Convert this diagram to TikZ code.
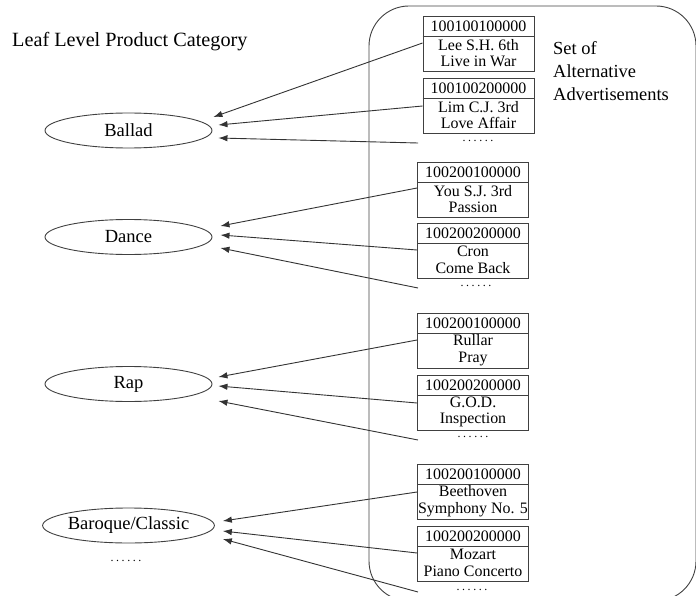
\documentclass[tikz,border=0pt]{standalone}
\usepackage{fontspec}
\setmainfont{Liberation Serif}
\usetikzlibrary{shapes.geometric,arrows.meta,calc}
\newcommand{\advbox}[6]{%
  \node[adbox, anchor=north] (#1) at (#2,#3) {};
  \draw[line] ($(#1.north west)+(0,20.5)$) -- ($(#1.north east)+(0,20.5)$);
  \node[code] (#1c) at ($(#1.north)+(0,10.5)$) {#4};
  \node[title] (#1t) at ($(#1.north)+(0,37)$) {#5\\#6};
}
\newcommand{\sixdots}{.\kern2.6bp.\kern2.6bp.\kern2.6bp.\kern2.6bp.\kern2.6bp.}
\begin{document}
\begin{tikzpicture}[x=1bp,y=-1bp,
  line/.style={draw=black!75, line width=0.9bp},
  cat/.style={ellipse, draw=black!75, line width=0.9bp, minimum width=167bp, minimum height=35bp, inner sep=0pt, font=\fontsize{18.6}{20}\selectfont},
  adbox/.style={draw=black!75, line width=0.9bp, minimum width=111bp, minimum height=55bp, inner sep=0pt},
  code/.style={font=\fontsize{16}{17}\selectfont, inner sep=0pt},
  title/.style={font=\fontsize{16}{16.5}\selectfont, align=center, inner sep=0pt},
  dots/.style={font=\fontsize{12}{12}\selectfont, inner sep=0pt},
  arr/.style={draw=black!80, line width=0.9bp, -{Latex[length=9bp,width=6.5bp]}}
]
\useasboundingbox (0,0) rectangle (696,596);

% container
\node[draw=black!75, line width=0.9bp, rounded corners=40bp, minimum width=327bp, minimum height=595bp, inner sep=0pt] (set) at (532.5,303.5) {};

% headings
\node[anchor=west, inner sep=0pt, font=\fontsize{20.3}{24}\selectfont] (head) at (12,42) {Leaf Level Product Category};
\node[anchor=north west, inner sep=0pt, align=left, font=\fontsize{18.5}{23}\selectfont] (setlbl) at (553,41) {Set of\\Alternative\\Advertisements};

% categories
\node[cat] (ballad) at (128.5,130.5) {Ballad};
\node[cat] (dance) at (128.5,237) {Dance};
\node[cat] (rap) at (128.5,384) {Rap};
\node[cat] (baroque) at (128.5,525.5) {Baroque/Classic};
\node[dots] (catdots) at (126,561) {\sixdots};

% advertisement boxes
\advbox{b1}{478.5}{16}{100100100000}{Lee S.H. 6th}{Live in War}
\advbox{b2}{478.5}{78}{100100200000}{Lim C.J. 3rd}{Love Affair}
\advbox{b3}{473}{162}{100200100000}{You S.J. 3rd}{Passion}
\advbox{b4}{473}{223}{100200200000}{Cron}{Come Back}
\advbox{b5}{473}{313}{100200100000}{Rullar}{Pray}
\advbox{b6}{473}{375}{100200200000}{G.O.D.}{Inspection}
\advbox{b7}{473}{464}{100200100000}{Beethoven}{Symphony No. 5}
\advbox{b8}{473}{526}{100200200000}{Mozart}{Piano Concerto}

\node[dots] (d1) at (478,140.5) {\sixdots};
\node[dots] (d2) at (476,285.5) {\sixdots};
\node[dots] (d3) at (473,437) {\sixdots};
\node[dots] (d4) at (472,589.5) {\sixdots};

% free ends
\coordinate (f1) at (418,143);
\coordinate (f2) at (418,288);
\coordinate (f3) at (418,440);
\coordinate (f4) at (418,592);

% arrows
\draw[arr] ($(b1.north west)+(0,27)$) -- ($(ballad.east)+(1,-13.5)$);
\draw[arr] ($(b2.north west)+(0,28)$) -- ($(ballad.east)+(6,-5.5)$);
\draw[arr] (f1) -- ($(ballad.east)+(6,7.5)$);

\draw[arr] ($(b3.north west)+(0,26)$) -- ($(dance.east)+(8,-11)$);
\draw[arr] ($(b4.north west)+(0,27)$) -- ($(dance.east)+(8,-2)$);
\draw[arr] (f2) -- ($(dance.east)+(8,11)$);

\draw[arr] ($(b5.north west)+(0,27)$) -- ($(rap.east)+(6,-7)$);
\draw[arr] ($(b6.north west)+(0,28)$) -- ($(rap.east)+(6,2)$);
\draw[arr] (f3) -- ($(rap.east)+(6,17)$);

\draw[arr] ($(b7.north west)+(0,28)$) -- ($(baroque.east)+(8,-4.5)$);
\draw[arr] ($(b8.north west)+(0,27)$) -- ($(baroque.east)+(8,5.5)$);
\draw[arr] (f4) -- ($(baroque.east)+(8,13.5)$);
\end{tikzpicture}
\end{document}
